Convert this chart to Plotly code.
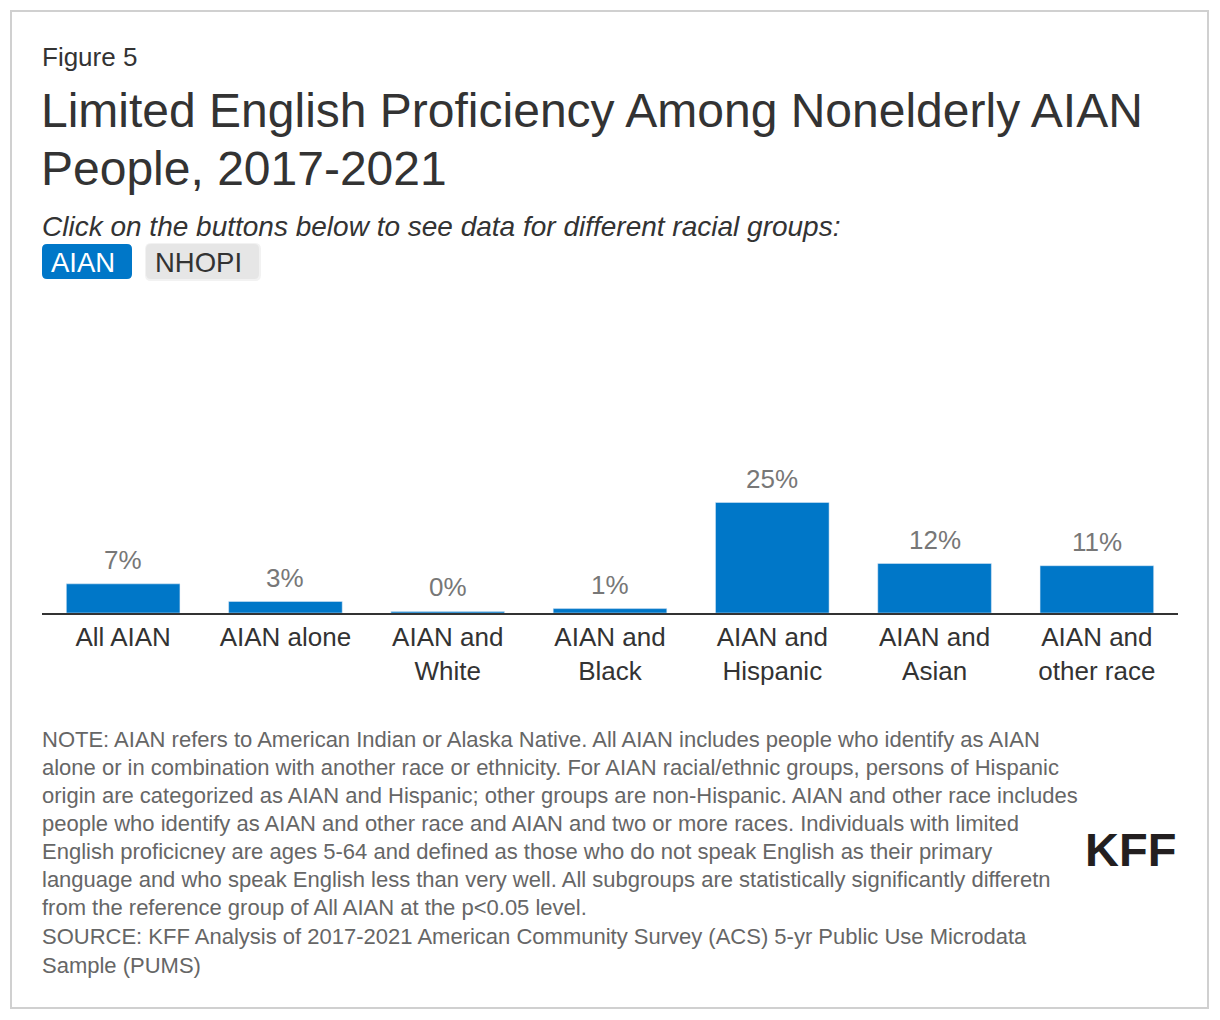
import plotly.graph_objects as go

# data
categories = ["All AIAN", "AIAN alone", "AIAN and<br>White", "AIAN and<br>Black",
              "AIAN and<br>Hispanic", "AIAN and<br>Asian", "AIAN and<br>other race"]
lep_share = [6.6, 2.6, 0.35, 1.0, 25.0, 11.2, 10.7]
lep_labels = ["7%", "3%", "0%", "1%", "25%", "12%", "11%"]
groups = ["AIAN", "NHOPI"]

title_lines = ["Limited English Proficiency Among Nonelderly AIAN", "People, 2017-2021"]
note_lines = [
    "NOTE: AIAN refers to American Indian or Alaska Native. All AIAN includes people who identify as AIAN",
    "alone or in combination with another race or ethnicity. For AIAN racial/ethnic groups, persons of Hispanic",
    "origin are categorized as AIAN and Hispanic; other groups are non-Hispanic. AIAN and other race includes",
    "people who identify as AIAN and other race and AIAN and two or more races. Individuals with limited",
    "English proficicney are ages 5-64 and defined as those who do not speak English as their primary",
    "language and who speak English less than very well. All subgroups are statistically significantly differetn",
    "from the reference group of All AIAN at the p<0.05 level.",
    "SOURCE: KFF Analysis of 2017-2021 American Community Survey (ACS) 5-yr Public Use Microdata",
    "Sample (PUMS)",
]

# page body has an 8px margin, so the figure is shrunk and everything shifted by it
OFF = 8
W, H = 1220 - OFF, 1020 - OFF
ML, MR, MT, MB = 42 - OFF, 42, 300 - OFF, 407
PW, PH = W - ML - MR, H - MT - MB
FONT = "Liberation Sans, Arial, sans-serif"
BLUE = "#0077c8"


def px_x(x):
    return (x - OFF - ML) / PW


def px_y(y):
    return (H - MB - (y - OFF)) / PH


fig = go.Figure(go.Bar(
    x=categories,
    y=lep_share,
    marker_color=BLUE,
    hoverinfo="skip",
))

annotations = []
for c, v, lab in zip(categories, lep_share, lep_labels):
    annotations.append(dict(text=lab, x=c, y=v, xref="x", yref="y", yanchor="bottom",
                            yshift=7, showarrow=False,
                            font=dict(size=26, color="#777777", family=FONT)))


def add_text(txt, x, y, size, color, **kw):
    annotations.append(dict(text=txt, x=px_x(x), y=px_y(y), xref="paper", yref="paper",
                            xanchor=kw.pop("xanchor", "left"), yanchor="middle",
                            showarrow=False, font=dict(size=size, color=color, family=FONT), **kw))


def rounded(x0, x1, y0, y1, r=5):
    # rounded rectangle path in paper coords, from pixel corners
    X = lambda v: px_x(v)
    Y = lambda v: px_y(v)
    return (f"M{X(x0 + r)},{Y(y0)} L{X(x1 - r)},{Y(y0)} Q{X(x1)},{Y(y0)} {X(x1)},{Y(y0 + r)} "
            f"L{X(x1)},{Y(y1 - r)} Q{X(x1)},{Y(y1)} {X(x1 - r)},{Y(y1)} "
            f"L{X(x0 + r)},{Y(y1)} Q{X(x0)},{Y(y1)} {X(x0)},{Y(y1 - r)} "
            f"L{X(x0)},{Y(y0 + r)} Q{X(x0)},{Y(y0)} {X(x0 + r)},{Y(y0)} Z")


add_text("Figure 5", 40, 57, 26, "#333333")
add_text(title_lines[0], 39, 110, 48, "#333333")
add_text(title_lines[1], 39, 168, 48, "#333333")
add_text("<i>Click on the buttons below to see data for different racial groups:</i>", 40, 226, 28, "#333333")

# toggle buttons (drawn)
shapes = []
btn_boxes = [(42, 132), (146, 259)]
for (x0, x1), name, active in zip(btn_boxes, groups, [True, False]):
    if not active:
        shapes.append(dict(type="path", xref="paper", yref="paper",
                           path=rounded(x0 - 1, x1 + 2, 243, 281, 6),
                           fillcolor="#f2f2f2", line_width=0, layer="below"))
    shapes.append(dict(type="path", xref="paper", yref="paper",
                       path=rounded(x0, x1, 244, 279, 5),
                       fillcolor=BLUE if active else "#e6e6e6", line_width=0, layer="below"))
    add_text(name, (x0 + x1) / 2 - 4, 262, 27.5, "white" if active else "#333333", xanchor="center")

for i, line in enumerate(note_lines):
    y = 739 + 28 * i + (2 if i >= 7 else 0)
    add_text(line, 40, y, 22, "#666666")

add_text("<b>KFF</b>", 1130, 849, 47, "#231f20", xanchor="center")

# frame
shapes.append(dict(type="rect", xref="paper", yref="paper",
                   x0=px_x(11), x1=px_x(1208), y0=px_y(1008), y1=px_y(11),
                   line=dict(color="#d0d0d0", width=2), fillcolor="rgba(0,0,0,0)"))

fig.update_layout(
    width=W, height=H,
    margin=dict(l=ML, r=MR, t=MT, b=MB),
    paper_bgcolor="white", plot_bgcolor="white",
    bargap=0.3,
    showlegend=False,
    font=dict(family=FONT, color="#333333"),
    xaxis=dict(showline=True, linecolor="#333333", linewidth=2, ticks="",
               tickfont=dict(size=26, color="#333333"), fixedrange=True),
    yaxis=dict(range=[0, PH / 4.42], visible=False, fixedrange=True),
    annotations=annotations,
    shapes=shapes,
)

fig.write_html("out.html")
